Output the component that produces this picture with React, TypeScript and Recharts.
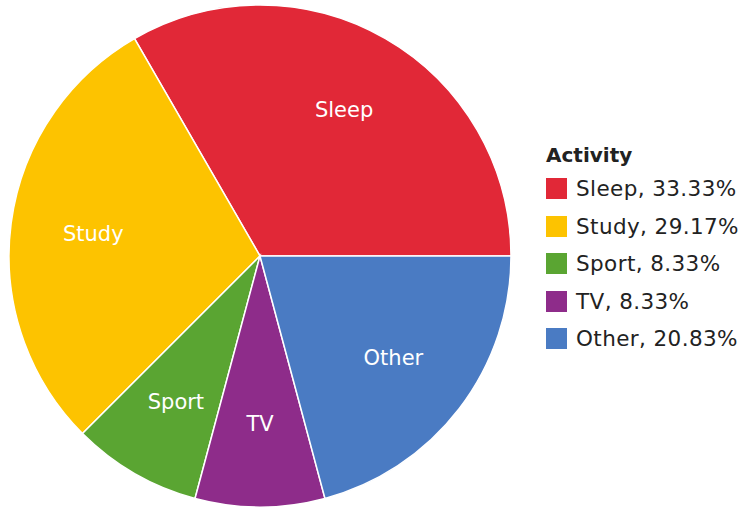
import { PieChart, Pie, Cell, Legend } from "recharts";

const activities = ["Sleep", "Study", "Sport", "TV", "Other"];
const hours = [8, 7, 2, 2, 5];
const colors = ["#E12837", "#FDC300", "#5AA532", "#8E2C8A", "#4A7BC3"];

const total = hours.reduce((a, b) => a + b, 0);
const data = activities.map((name, i) => ({ name, value: hours[i] }));

const FONT = "Verdana, 'DejaVu Sans', sans-serif";
const RAD = Math.PI / 180;

const renderLabel = (props: any) => {
  const { cx, cy, midAngle, outerRadius, name } = props;
  const r = outerRadius * 0.67;
  const x = cx + r * Math.cos(-midAngle * RAD);
  const y = cy + r * Math.sin(-midAngle * RAD);
  return (
    <text
      x={x}
      y={y}
      fill="#fff"
      textAnchor="middle"
      dominantBaseline="central"
      fontFamily={FONT}
      fontSize={21}
    >
      {name}
    </text>
  );
};

const renderLegend = () => (
  <div style={{ fontFamily: FONT, color: "#222" }}>
    <div style={{ fontWeight: "bold", fontSize: 20, height: 30, lineHeight: "30px" }}>
      Activity
    </div>
    {activities.map((name, i) => (
      <div
        key={name}
        style={{ display: "flex", alignItems: "center", height: 37.5, fontSize: 21.5, whiteSpace: "nowrap" }}
      >
        <span
          style={{
            display: "inline-block",
            width: 21,
            height: 21,
            background: colors[i],
            marginRight: 9,
            flexShrink: 0,
          }}
        />
        <span style={{ letterSpacing: 0.4 }}>
          {name}, {((hours[i] / total) * 100).toFixed(2)}%
        </span>
      </div>
    ))}
  </div>
);

export default function App() {
  return (
    <div style={{ position: "absolute", left: 0, top: 0, background: "#fff" }}>
      <PieChart width={740} height={508} margin={{ top: 0, right: 0, bottom: 0, left: 0 }}>
        <Pie
          data={data}
          dataKey="value"
          nameKey="name"
          cx={260}
          cy={256}
          outerRadius={251}
          startAngle={0}
          endAngle={360}
          stroke="#fff"
          strokeWidth={1.5}
          label={renderLabel}
          labelLine={false}
          isAnimationActive={false}
        >
          {data.map((d, i) => (
            <Cell key={d.name} fill={colors[i]} />
          ))}
        </Pie>
        <Legend
          content={renderLegend}
          wrapperStyle={{ position: "absolute", left: 546, top: 140, width: 194 }}
        />
      </PieChart>
    </div>
  );
}
